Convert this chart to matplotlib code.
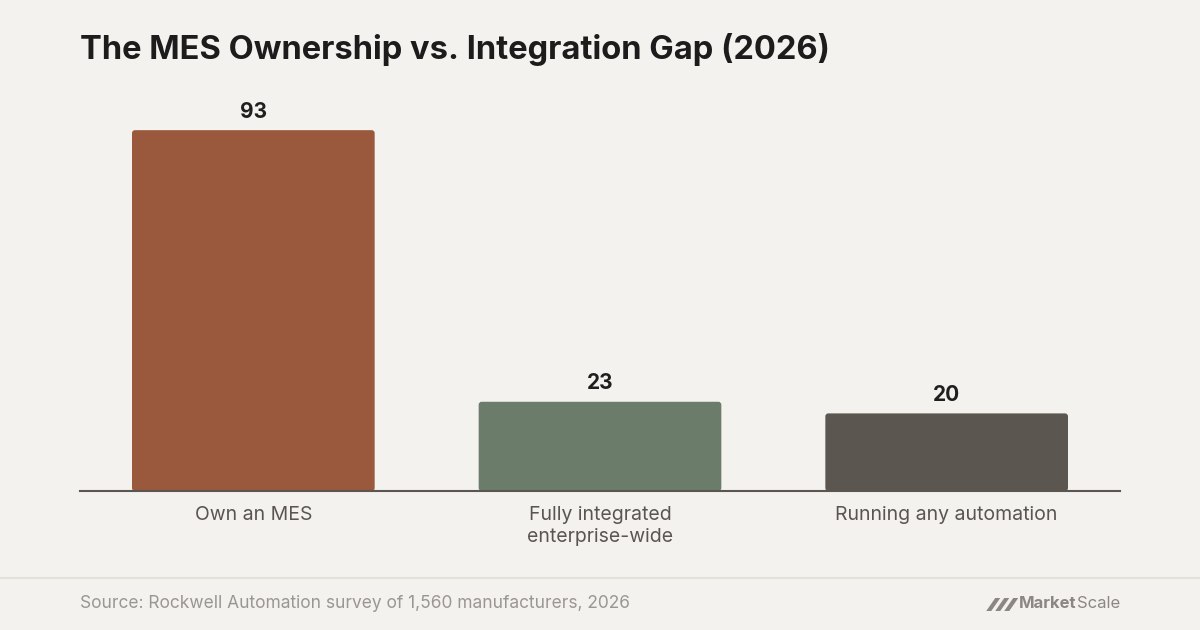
import matplotlib
matplotlib.use("Agg")
import matplotlib.pyplot as plt
from matplotlib.patches import FancyBboxPatch, Polygon
from matplotlib.lines import Line2D

plt.rcParams['font.family'] = ['Inter', 'DejaVu Sans']

categories = ["Own an MES", "Fully integrated\nenterprise-wide", "Running any automation"]
values = [93, 23, 20]
bar_colors = ["#9a583c", "#6b7c6a", "#5c5650"]

BG = "#f4f2ee"
W, H = 1200, 630

fig = plt.figure(figsize=(12, 6.3), dpi=100, facecolor=BG)
ax = fig.add_axes([80 / W, (H - 491) / H, 1040 / W, 388 / H])
ax.set_facecolor(BG)

x = list(range(len(categories)))
bars = ax.bar(x, values, width=0.7, color=bar_colors)
ax.set_xlim(-0.5, len(categories) - 0.5)
ax.set_ylim(0, 100)

# swap the square bars for ones with slightly rounded corners
px_x = 1040 / (len(categories))        # pixels per x unit
px_y = 388 / 100                        # pixels per y unit
radius_px = 3
for b in bars:
    b.set_visible(False)
    r = FancyBboxPatch((b.get_x(), b.get_y()), b.get_width(), b.get_height(),
                       boxstyle=f"round,pad=0,rounding_size={radius_px / px_x}",
                       mutation_aspect=px_x / px_y,
                       facecolor=b.get_facecolor(), edgecolor="none", zorder=2)
    ax.add_patch(r)

for xi, v in zip(x, values):
    ax.annotate(str(v), (xi, v), xytext=(0, 6), textcoords="offset points",
                ha="center", va="bottom", fontsize=15, fontweight="bold",
                color="#1f1f1f")

ax.set_xticks(x)
ax.set_xticklabels(categories, fontsize=14, color="#5a5550", linespacing=1.27)
ax.tick_params(axis="x", length=0, pad=11)
ax.set_yticks([])
for s in ["top", "right", "left"]:
    ax.spines[s].set_visible(False)
ax.spines["bottom"].set_color("#5c5650")
ax.spines["bottom"].set_linewidth(1.5)
ax.spines["bottom"].set_zorder(3)

fig.text(80 / W, 1 - 49 / H, "The MES Ownership vs. Integration Gap (2026)",
         fontsize=23.5, fontweight="bold", color="#1c1c1c", va="center", ha="left")

# footer
fig.add_artist(Line2D([0, 1], [1 - 578 / H, 1 - 578 / H], color="#e4e1db", lw=1.5))
fig.text(80 / W, 1 - 604 / H, "Source: Rockwell Automation survey of 1,560 manufacturers, 2026",
         fontsize=12.5, color="#9a9792", va="center", ha="left")

logo_color = "#8a8784"
scale_txt = fig.text(1120 / W, 1 - 604 / H, "Scale", fontsize=12, color=logo_color,
                     va="center", ha="right")
fig.canvas.draw()
rend = fig.canvas.get_renderer()
sx0 = scale_txt.get_window_extent(rend).x0
market_txt = fig.text(sx0 / W, 1 - 604 / H, "Market", fontsize=12, fontweight="bold",
                      color=logo_color, va="center", ha="right")
fig.canvas.draw()
mx0 = market_txt.get_window_extent(rend).x0

# little slanted-stripe mark left of the word
y0, y1 = 1 - 611 / H, 1 - 598 / H
right = mx0 - 3
for dx, w in [(0, 5), (9, 5), (18, 5)]:
    xl = right - 30 + dx
    pts = [(xl / W, y0), ((xl + w) / W, y0), ((xl + w + 9) / W, y1), ((xl + 9) / W, y1)]
    fig.add_artist(Polygon(pts, closed=True, facecolor=logo_color, edgecolor="none",
                           transform=fig.transFigure))

fig.savefig("out.png", dpi=100, facecolor=BG)
